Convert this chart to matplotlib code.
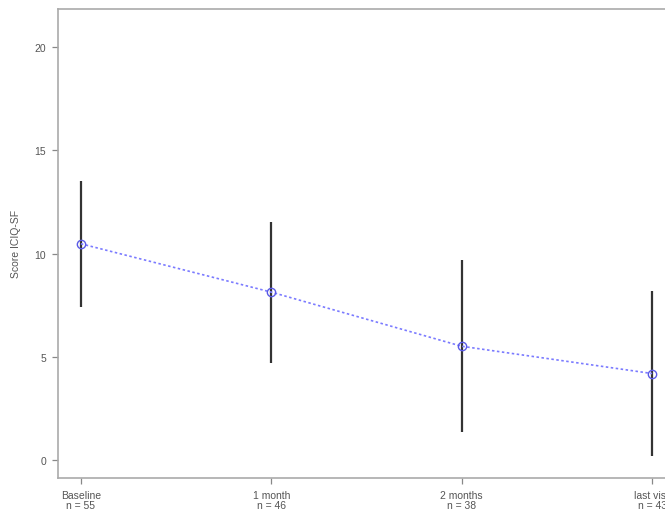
import matplotlib
matplotlib.use("Agg")
import matplotlib.pyplot as plt
from matplotlib import font_manager

categories = ["Baseline", "1 month", "2 months", "last visit"]
n_counts = [55, 46, 38, 43]
means = [10.48, 8.14, 5.52, 4.20]
sds = [3.04, 3.41, 4.17, 4.01]
yticks = [0, 5, 10, 15, 20]

names = {f.name for f in font_manager.fontManager.ttflist}
fam = "Liberation Sans Narrow" if "Liberation Sans Narrow" in names else "Liberation Sans"
plt.rcParams["font.family"] = [fam, "DejaVu Sans"]

W, H = 665, 510
fig = plt.figure(figsize=(W / 100, H / 100), dpi=100)
left, right, top, bottom = 58, 675, 10, 478.7
ax = fig.add_axes([left / W, (H - bottom) / H, (right - left) / W, (bottom - top) / H])

x = list(range(1, len(categories) + 1))
lo = [m - s for m, s in zip(means, sds)]
hi = [m + s for m, s in zip(means, sds)]
ax.vlines(x, lo, hi, color="#333333", lw=1.6, zorder=2)
ax.plot(x, means, ls=(0, (1.5, 1.5)), color="#7b7bff", lw=1.2, zorder=3)
ax.plot(x, means, ls="none", marker="o", ms=6, mfc="none", mec="#5a5ae6", mew=1.0, zorder=4)

ax.set_xlim(0.88, 4.12)
ax.set_ylim(-0.84, 21.84)
ax.set_yticks(yticks)
ax.set_yticklabels([str(v) for v in yticks])
ax.set_xticks(x)
ax.set_xticklabels([f"{c}\nn = {n}" for c, n in zip(categories, n_counts)], linespacing=1.05)
ax.set_ylabel("Score ICIQ-SF", fontsize=7.5, color="#555555", labelpad=10)

for s in ax.spines.values():
    s.set_color("#aaaaaa")
    s.set_linewidth(1.2)
ax.tick_params(axis="both", direction="out", length=4.5, width=0.9, color="#888888",
               labelcolor="#555555", labelsize=7.5)
ax.tick_params(axis="x", pad=4)
ax.tick_params(axis="y", pad=4)

fig.savefig("out.png", dpi=100)
